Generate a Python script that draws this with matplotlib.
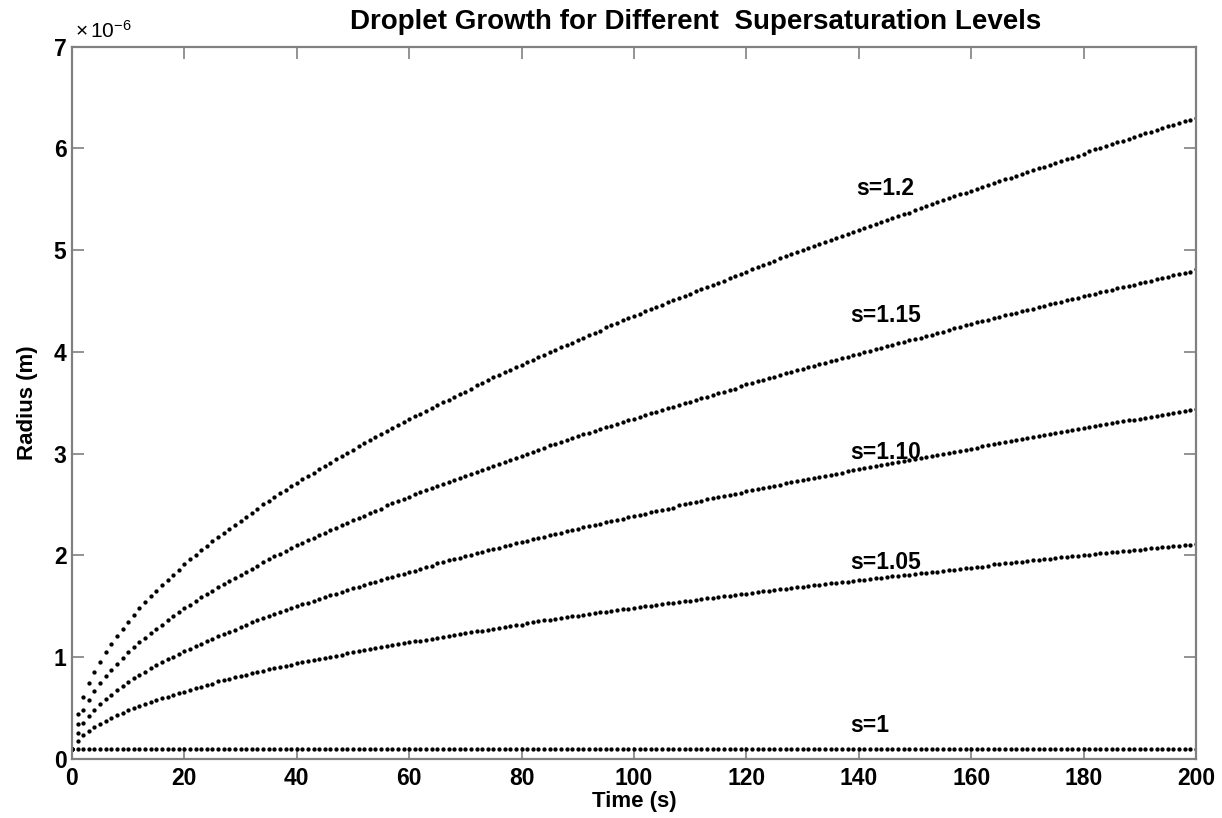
import matplotlib
matplotlib.use('Agg')
import matplotlib.pyplot as plt

plt.rcParams['font.family'] = ['Liberation Sans', 'DejaVu Sans']
plt.rcParams['mathtext.fontset'] = 'custom'
plt.rcParams['mathtext.rm'] = 'Liberation Sans'
plt.rcParams['mathtext.it'] = 'Liberation Sans:italic'
plt.rcParams['mathtext.bf'] = 'Liberation Sans:bold'

# time axis (s), one sample per second
time_s = [
    0, 1, 2, 3, 4, 5, 6, 7, 8, 9, 10, 11, 12, 13, 14, 15, 16, 17, 18, 19,
    20, 21, 22, 23, 24, 25, 26, 27, 28, 29, 30, 31, 32, 33, 34, 35, 36, 37, 38, 39,
    40, 41, 42, 43, 44, 45, 46, 47, 48, 49, 50, 51, 52, 53, 54, 55, 56, 57, 58, 59,
    60, 61, 62, 63, 64, 65, 66, 67, 68, 69, 70, 71, 72, 73, 74, 75, 76, 77, 78, 79,
    80, 81, 82, 83, 84, 85, 86, 87, 88, 89, 90, 91, 92, 93, 94, 95, 96, 97, 98, 99,
    100, 101, 102, 103, 104, 105, 106, 107, 108, 109, 110, 111, 112, 113, 114, 115, 116, 117, 118, 119,
    120, 121, 122, 123, 124, 125, 126, 127, 128, 129, 130, 131, 132, 133, 134, 135, 136, 137, 138, 139,
    140, 141, 142, 143, 144, 145, 146, 147, 148, 149, 150, 151, 152, 153, 154, 155, 156, 157, 158, 159,
    160, 161, 162, 163, 164, 165, 166, 167, 168, 169, 170, 171, 172, 173, 174, 175, 176, 177, 178, 179,
    180, 181, 182, 183, 184, 185, 186, 187, 188, 189, 190, 191, 192, 193, 194, 195, 196, 197, 198, 199,
    200]

# radius in units of 1e-6 m
radius_s120 = [
    0.100, 0.436, 0.609, 0.742, 0.855, 0.955, 1.046, 1.129, 1.207, 1.280, 1.349,
    1.41, 1.48, 1.54, 1.60, 1.65, 1.71, 1.76, 1.81, 1.86, 1.91,
    1.96, 2.00, 2.05, 2.09, 2.14, 2.18, 2.22, 2.26, 2.30, 2.34,
    2.38, 2.42, 2.46, 2.50, 2.53, 2.57, 2.61, 2.64, 2.68, 2.71,
    2.75, 2.78, 2.81, 2.85, 2.88, 2.91, 2.95, 2.98, 3.01, 3.04,
    3.07, 3.10, 3.13, 3.16, 3.19, 3.22, 3.25, 3.28, 3.31, 3.34,
    3.37, 3.39, 3.42, 3.45, 3.48, 3.51, 3.53, 3.56, 3.59, 3.61,
    3.64, 3.67, 3.69, 3.72, 3.75, 3.77, 3.80, 3.82, 3.85, 3.87,
    3.90, 3.92, 3.95, 3.97, 4.00, 4.02, 4.05, 4.07, 4.09, 4.12,
    4.14, 4.17, 4.19, 4.21, 4.24, 4.26, 4.28, 4.31, 4.33, 4.35,
    4.37, 4.40, 4.42, 4.44, 4.46, 4.49, 4.51, 4.53, 4.55, 4.57,
    4.60, 4.62, 4.64, 4.66, 4.68, 4.70, 4.73, 4.75, 4.77, 4.79,
    4.81, 4.83, 4.85, 4.87, 4.89, 4.92, 4.94, 4.96, 4.98, 5.00,
    5.02, 5.04, 5.06, 5.08, 5.10, 5.12, 5.14, 5.16, 5.18, 5.20,
    5.22, 5.24, 5.26, 5.28, 5.30, 5.32, 5.34, 5.36, 5.37, 5.39,
    5.41, 5.43, 5.45, 5.47, 5.49, 5.51, 5.53, 5.55, 5.56, 5.58,
    5.60, 5.62, 5.64, 5.66, 5.68, 5.70, 5.71, 5.73, 5.75, 5.77,
    5.79, 5.81, 5.82, 5.84, 5.86, 5.88, 5.90, 5.91, 5.93, 5.95,
    5.97, 5.99, 6.00, 6.02, 6.04, 6.06, 6.07, 6.09, 6.11, 6.13,
    6.15, 6.16, 6.18, 6.20, 6.22, 6.23, 6.25, 6.27, 6.28, 6.30]

radius_s115 = [
    0.100, 0.344, 0.476, 0.578, 0.665, 0.742, 0.812, 0.876, 0.936, 0.992, 1.046,
    1.10, 1.15, 1.19, 1.24, 1.28, 1.32, 1.36, 1.40, 1.44, 1.48,
    1.51, 1.55, 1.59, 1.62, 1.65, 1.69, 1.72, 1.75, 1.78, 1.81,
    1.84, 1.87, 1.90, 1.93, 1.96, 1.99, 2.01, 2.04, 2.07, 2.10,
    2.12, 2.15, 2.17, 2.20, 2.22, 2.25, 2.27, 2.30, 2.32, 2.35,
    2.37, 2.39, 2.42, 2.44, 2.46, 2.49, 2.51, 2.53, 2.55, 2.57,
    2.60, 2.62, 2.64, 2.66, 2.68, 2.70, 2.72, 2.74, 2.76, 2.78,
    2.80, 2.82, 2.84, 2.86, 2.88, 2.90, 2.92, 2.94, 2.96, 2.98,
    3.00, 3.02, 3.04, 3.06, 3.08, 3.09, 3.11, 3.13, 3.15, 3.17,
    3.19, 3.20, 3.22, 3.24, 3.26, 3.27, 3.29, 3.31, 3.33, 3.34,
    3.36, 3.38, 3.40, 3.41, 3.43, 3.45, 3.46, 3.48, 3.50, 3.51,
    3.53, 3.55, 3.56, 3.58, 3.60, 3.61, 3.63, 3.64, 3.66, 3.68,
    3.69, 3.71, 3.72, 3.74, 3.75, 3.77, 3.79, 3.80, 3.82, 3.83,
    3.85, 3.86, 3.88, 3.89, 3.91, 3.92, 3.94, 3.95, 3.97, 3.98,
    4.00, 4.01, 4.03, 4.04, 4.06, 4.07, 4.09, 4.10, 4.12, 4.13,
    4.14, 4.16, 4.17, 4.19, 4.20, 4.22, 4.23, 4.24, 4.26, 4.27,
    4.29, 4.30, 4.31, 4.33, 4.34, 4.36, 4.37, 4.38, 4.40, 4.41,
    4.42, 4.44, 4.45, 4.47, 4.48, 4.49, 4.51, 4.52, 4.53, 4.55,
    4.56, 4.57, 4.59, 4.60, 4.61, 4.63, 4.64, 4.65, 4.66, 4.68,
    4.69, 4.70, 4.72, 4.73, 4.74, 4.76, 4.77, 4.78, 4.79, 4.81]

radius_s110 = [
    0.100, 0.255, 0.347, 0.419, 0.480, 0.534, 0.584, 0.629, 0.672, 0.712, 0.750,
    0.79, 0.82, 0.85, 0.89, 0.92, 0.95, 0.98, 1.00, 1.03, 1.06,
    1.08, 1.11, 1.13, 1.16, 1.18, 1.21, 1.23, 1.25, 1.27, 1.30,
    1.32, 1.34, 1.36, 1.38, 1.40, 1.42, 1.44, 1.46, 1.48, 1.50,
    1.52, 1.53, 1.55, 1.57, 1.59, 1.61, 1.62, 1.64, 1.66, 1.68,
    1.69, 1.71, 1.73, 1.74, 1.76, 1.78, 1.79, 1.81, 1.82, 1.84,
    1.85, 1.87, 1.89, 1.90, 1.92, 1.93, 1.95, 1.96, 1.97, 1.99,
    2.00, 2.02, 2.03, 2.05, 2.06, 2.07, 2.09, 2.10, 2.12, 2.13,
    2.14, 2.16, 2.17, 2.18, 2.20, 2.21, 2.22, 2.24, 2.25, 2.26,
    2.28, 2.29, 2.30, 2.31, 2.33, 2.34, 2.35, 2.36, 2.38, 2.39,
    2.40, 2.41, 2.43, 2.44, 2.45, 2.46, 2.47, 2.49, 2.50, 2.51,
    2.52, 2.53, 2.55, 2.56, 2.57, 2.58, 2.59, 2.60, 2.61, 2.63,
    2.64, 2.65, 2.66, 2.67, 2.68, 2.69, 2.71, 2.72, 2.73, 2.74,
    2.75, 2.76, 2.77, 2.78, 2.79, 2.80, 2.81, 2.83, 2.84, 2.85,
    2.86, 2.87, 2.88, 2.89, 2.90, 2.91, 2.92, 2.93, 2.94, 2.95,
    2.96, 2.97, 2.98, 2.99, 3.00, 3.01, 3.02, 3.03, 3.04, 3.05,
    3.06, 3.07, 3.08, 3.09, 3.10, 3.11, 3.12, 3.13, 3.14, 3.15,
    3.16, 3.17, 3.18, 3.19, 3.20, 3.21, 3.22, 3.23, 3.24, 3.25,
    3.26, 3.27, 3.28, 3.29, 3.30, 3.31, 3.32, 3.33, 3.33, 3.34,
    3.35, 3.36, 3.37, 3.38, 3.39, 3.40, 3.41, 3.42, 3.43, 3.44]

radius_s105 = [
    0.100, 0.177, 0.230, 0.273, 0.310, 0.343, 0.373, 0.401, 0.427, 0.451, 0.475,
    0.50, 0.52, 0.54, 0.56, 0.58, 0.60, 0.61, 0.63, 0.65, 0.66,
    0.68, 0.70, 0.71, 0.73, 0.74, 0.76, 0.77, 0.78, 0.80, 0.81,
    0.82, 0.84, 0.85, 0.86, 0.88, 0.89, 0.90, 0.91, 0.92, 0.94,
    0.95, 0.96, 0.97, 0.98, 0.99, 1.00, 1.01, 1.02, 1.04, 1.05,
    1.06, 1.07, 1.08, 1.09, 1.10, 1.11, 1.12, 1.13, 1.14, 1.15,
    1.16, 1.16, 1.17, 1.18, 1.19, 1.20, 1.21, 1.22, 1.23, 1.24,
    1.25, 1.26, 1.26, 1.27, 1.28, 1.29, 1.30, 1.31, 1.32, 1.32,
    1.33, 1.34, 1.35, 1.36, 1.36, 1.37, 1.38, 1.39, 1.40, 1.40,
    1.41, 1.42, 1.43, 1.44, 1.44, 1.45, 1.46, 1.47, 1.47, 1.48,
    1.49, 1.50, 1.50, 1.51, 1.52, 1.53, 1.53, 1.54, 1.55, 1.55,
    1.56, 1.57, 1.58, 1.58, 1.59, 1.60, 1.60, 1.61, 1.62, 1.62,
    1.63, 1.64, 1.65, 1.65, 1.66, 1.67, 1.67, 1.68, 1.69, 1.69,
    1.70, 1.71, 1.71, 1.72, 1.73, 1.73, 1.74, 1.74, 1.75, 1.76,
    1.76, 1.77, 1.78, 1.78, 1.79, 1.80, 1.80, 1.81, 1.81, 1.82,
    1.83, 1.83, 1.84, 1.84, 1.85, 1.86, 1.86, 1.87, 1.88, 1.88,
    1.89, 1.89, 1.90, 1.91, 1.91, 1.92, 1.92, 1.93, 1.93, 1.94,
    1.95, 1.95, 1.96, 1.96, 1.97, 1.98, 1.98, 1.99, 1.99, 2.00,
    2.00, 2.01, 2.02, 2.02, 2.03, 2.03, 2.04, 2.04, 2.05, 2.05,
    2.06, 2.07, 2.07, 2.08, 2.08, 2.09, 2.09, 2.10, 2.10, 2.11]

radius_s100 = [
    0.1, 0.1, 0.1, 0.1, 0.1, 0.1, 0.1, 0.1, 0.1, 0.1, 0.1, 0.1, 0.1, 0.1, 0.1, 0.1, 0.1, 0.1, 0.1, 0.1,
    0.1, 0.1, 0.1, 0.1, 0.1, 0.1, 0.1, 0.1, 0.1, 0.1, 0.1, 0.1, 0.1, 0.1, 0.1, 0.1, 0.1, 0.1, 0.1, 0.1,
    0.1, 0.1, 0.1, 0.1, 0.1, 0.1, 0.1, 0.1, 0.1, 0.1, 0.1, 0.1, 0.1, 0.1, 0.1, 0.1, 0.1, 0.1, 0.1, 0.1,
    0.1, 0.1, 0.1, 0.1, 0.1, 0.1, 0.1, 0.1, 0.1, 0.1, 0.1, 0.1, 0.1, 0.1, 0.1, 0.1, 0.1, 0.1, 0.1, 0.1,
    0.1, 0.1, 0.1, 0.1, 0.1, 0.1, 0.1, 0.1, 0.1, 0.1, 0.1, 0.1, 0.1, 0.1, 0.1, 0.1, 0.1, 0.1, 0.1, 0.1,
    0.1, 0.1, 0.1, 0.1, 0.1, 0.1, 0.1, 0.1, 0.1, 0.1, 0.1, 0.1, 0.1, 0.1, 0.1, 0.1, 0.1, 0.1, 0.1, 0.1,
    0.1, 0.1, 0.1, 0.1, 0.1, 0.1, 0.1, 0.1, 0.1, 0.1, 0.1, 0.1, 0.1, 0.1, 0.1, 0.1, 0.1, 0.1, 0.1, 0.1,
    0.1, 0.1, 0.1, 0.1, 0.1, 0.1, 0.1, 0.1, 0.1, 0.1, 0.1, 0.1, 0.1, 0.1, 0.1, 0.1, 0.1, 0.1, 0.1, 0.1,
    0.1, 0.1, 0.1, 0.1, 0.1, 0.1, 0.1, 0.1, 0.1, 0.1, 0.1, 0.1, 0.1, 0.1, 0.1, 0.1, 0.1, 0.1, 0.1, 0.1,
    0.1, 0.1, 0.1, 0.1, 0.1, 0.1, 0.1, 0.1, 0.1, 0.1, 0.1, 0.1, 0.1, 0.1, 0.1, 0.1, 0.1, 0.1, 0.1, 0.1,
    0.1]

curve_labels = ['s=1.2', 's=1.15', 's=1.10', 's=1.05', 's=1']
x_ticks = [0, 20, 40, 60, 80, 100, 120, 140, 160, 180, 200]
y_ticks = [0, 1, 2, 3, 4, 5, 6, 7]

fig = plt.figure(figsize=(12.22, 8.18), dpi=100)
ax = fig.add_axes([0.0589, 0.0724, 0.9198, 0.8705])

curves = [radius_s120, radius_s115, radius_s110, radius_s105, radius_s100]
for r in curves:
    ax.plot(time_s, r, ls='none', marker='o', ms=3.1, mfc='k', mec='k', mew=0)

# curve labels (x in s, baseline y in 1e-6 m)
label_pos = [(139.5, 5.54), (138.5, 4.29), (138.5, 2.95), (138.5, 1.87), (138.5, 0.26)]
for txt, (lx, ly) in zip(curve_labels, label_pos):
    ax.text(lx, ly, txt, fontsize=16.5, fontweight='bold', va='baseline', ha='left')

ax.set_xlim(0, 200)
ax.set_ylim(0, 7)
ax.set_xticks(x_ticks)
ax.set_yticks(y_ticks)
ax.tick_params(direction='in', length=8.5, width=1.2, color='#808080',
               top=True, right=True, labelsize=16.5)
ax.tick_params(axis='x', pad=6)
ax.tick_params(axis='y', pad=4)
for lbl in ax.get_xticklabels() + ax.get_yticklabels():
    lbl.set_fontweight('bold')
for sp in ax.spines.values():
    sp.set_color('#808080')
    sp.set_linewidth(1.6)

fig.text(75 / 1222, 1 - 38 / 818, r'$\times\,10^{-6}$', fontsize=15, va='baseline', ha='left')
fig.text(696 / 1222, 1 - 22 / 818, 'Droplet Growth for Different  Supersaturation Levels',
         fontsize=20, fontweight='bold', ha='center', va='center')
fig.text(634 / 1222, 1 - 801 / 818, 'Time (s)', fontsize=16, fontweight='bold',
         ha='center', va='center')
fig.text(27 / 1222, 1 - 403 / 818, 'Radius (m)', fontsize=16, fontweight='bold',
         ha='center', va='center', rotation=90)

fig.savefig('out.png', dpi=100)
